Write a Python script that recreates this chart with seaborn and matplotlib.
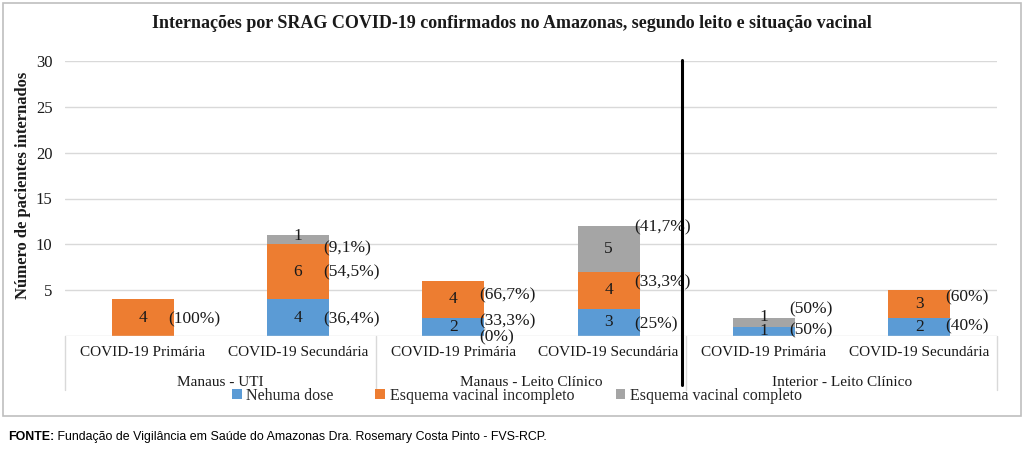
import numpy as np
import pandas as pd
import matplotlib
matplotlib.use("Agg")
import matplotlib.pyplot as plt
import matplotlib.transforms as mtrans
from matplotlib.patches import Patch, Rectangle
import seaborn as sns

# ---------------- data ----------------
title = "Internações por SRAG COVID-19 confirmados no Amazonas, segundo leito e situação vacinal"
ylabel = "Número de pacientes internados"
categories = ["COVID-19 Primária", "COVID-19 Secundária",
              "COVID-19 Primária", "COVID-19 Secundária",
              "COVID-19 Primária", "COVID-19 Secundária"]
groups = ["Manaus - UTI", "Manaus - Leito Clínico", "Interior - Leito Clínico"]
series_names = ["Nehuma dose", "Esquema vacinal incompleto", "Esquema vacinal completo"]
nenhuma = [0, 4, 2, 3, 1, 2]
incompleto = [4, 6, 4, 4, 0, 3]
completo = [0, 1, 0, 5, 1, 0]
pct_nenhuma = [None, "(36,4%)", "(33,3%)", "(25%)", "(50%)", "(40%)"]
pct_incompleto = ["(100%)", "(54,5%)", "(66,7%)", "(33,3%)", None, "(60%)"]
pct_completo = [None, "(9,1%)", "(0%)", "(41,7%)", "(50%)", None]
yticks = [5, 10, 15, 20, 25, 30]
source_bold = "FONTE:"
source_text = " Fundação de Vigilância em Saúde do Amazonas Dra. Rosemary Costa Pinto - FVS-RCP."

# ---------------- style ----------------
colors = ["#5B9BD5", "#ED7D31", "#A5A5A5"]
grid_c = "#D9D9D9"
txt_c = "#1a1a1a"
# manual label placement tweaks (data units, relative to segment centre)
pct_dy = [
    [0, -0.15, 0.6, -0.2, 0.15, 0.1],
    [-0.15, -0.1, 0.4, 0.9, 0, 0.75],
    [0, -0.9, -6.1, 2.3, 1.4, 0],
]
val_dy = [
    [0, 0, 0, 0, 0.0, 0],
    [0, 0, 0, 0, 0, 0],
    [0, 0.4, 0, 0, 0.55, 0],
]

sns.set_theme(style="white")
plt.rcParams["font.family"] = ["Liberation Serif", "DejaVu Serif"]

W, H = 1024, 451
fig = plt.figure(figsize=(W / 100, H / 100), dpi=100)
ax_l, ax_r, ax_t, ax_b = 65, 997, 61, 336
ax = fig.add_axes([ax_l / W, 1 - ax_b / H, (ax_r - ax_l) / W, (ax_b - ax_t) / H])

slot = [str(i) for i in range(len(categories))]
s1 = np.array(nenhuma)
s2 = np.array(incompleto)
s3 = np.array(completo)
df = pd.DataFrame({"slot": slot, "c1": s1, "c2": s1 + s2, "c3": s1 + s2 + s3})

for col, c in zip(["c3", "c2", "c1"], colors[::-1]):
    sns.barplot(data=df, x="slot", y=col, order=slot, color=c, saturation=1,
                width=0.4, linewidth=0, errorbar=None, ax=ax, zorder=3)

ax.set_xlim(-0.5, len(slot) - 0.5)
ax.set_ylim(0, 30)
ax.set_yticks(yticks)
ax.set_yticklabels([str(t) for t in yticks], fontsize=12, color=txt_c)
ax.tick_params(axis="y", length=0, pad=9)
ax.set_xticks([])
ax.set_xlabel("")
ax.set_ylabel(ylabel, fontsize=12, fontweight="bold", color=txt_c)
ax.yaxis.set_label_coords(-34 / (ax_r - ax_l), 0.547)
for t in yticks:
    ax.axhline(t, color=grid_c, lw=1, zorder=0)
ax.axhline(0, color=grid_c, lw=1, zorder=4)
for s in ax.spines.values():
    s.set_visible(False)

# value & percentage labels
bottoms = [np.zeros(6), s1, s1 + s2]
vals = [s1, s2, s3]
pcts = [pct_nenhuma, pct_incompleto, pct_completo]
for k in range(3):
    for i in range(6):
        v = vals[k][i]
        cy = bottoms[k][i] + v / 2
        if v > 0:
            ax.text(i, cy + val_dy[k][i], str(v), ha="center", va="center", fontsize=12.5,
                    color=txt_c, zorder=5)
        if pcts[k][i] is not None:
            ax.text(i + 0.165, cy + pct_dy[k][i], pcts[k][i], ha="left", va="center",
                    fontsize=12.5, color=txt_c, zorder=5)

# multi-level category axis
trans = mtrans.blended_transform_factory(ax.transData, ax.transAxes)
h = ax_b - ax_t
for i, c in enumerate(categories):
    ax.text(i, -17 / h, c, transform=trans, ha="center", va="center", fontsize=11, color=txt_c)
for g, name in enumerate(groups):
    ax.text(2 * g + 0.5, -46 / h, name, transform=trans, ha="center", va="center", fontsize=11, color=txt_c)
for xb in [-0.5, 1.5, 3.5, 5.5]:
    ax.plot([xb, xb], [0, -54 / h], transform=trans, color=grid_c, lw=1, clip_on=False)
# thick black separator
ax.plot([3.475, 3.475], [1.002, -49 / h], transform=trans, color="black", lw=2.2,
        clip_on=False, zorder=6)

# title
fig.text(0.5, 1 - 24 / H, title, ha="center", va="center", fontsize=13, fontweight="bold", color=txt_c)

# legend
handles = [Patch(facecolor=c, edgecolor="none") for c in colors]
fig.legend(handles, series_names, loc="center", bbox_to_anchor=(0.505, 1 - 396 / H), ncol=3,
           frameon=False, fontsize=11.5, handlelength=0.6, handleheight=0.6,
           handletextpad=0.3, columnspacing=2.6, borderpad=0)

# outer frame
fig.patches.append(Rectangle((3 / W, 1 - 416 / H), 1018 / W, 413 / H, transform=fig.transFigure,
                             fill=False, edgecolor="#BFBFBF", lw=1.2))

# source
sb = fig.text(8 / W, 1 - 437 / H, source_bold, ha="left", va="center", fontsize=8.9,
              fontweight="bold", family=["Liberation Sans", "DejaVu Sans"], color="black")
fig.canvas.draw()
bb = sb.get_window_extent()
fig.text(bb.x1 / W, 1 - 437 / H, source_text, ha="left", va="center", fontsize=8.9,
         family=["Liberation Sans", "DejaVu Sans"], color="black")

fig.savefig("out.png", dpi=100)
